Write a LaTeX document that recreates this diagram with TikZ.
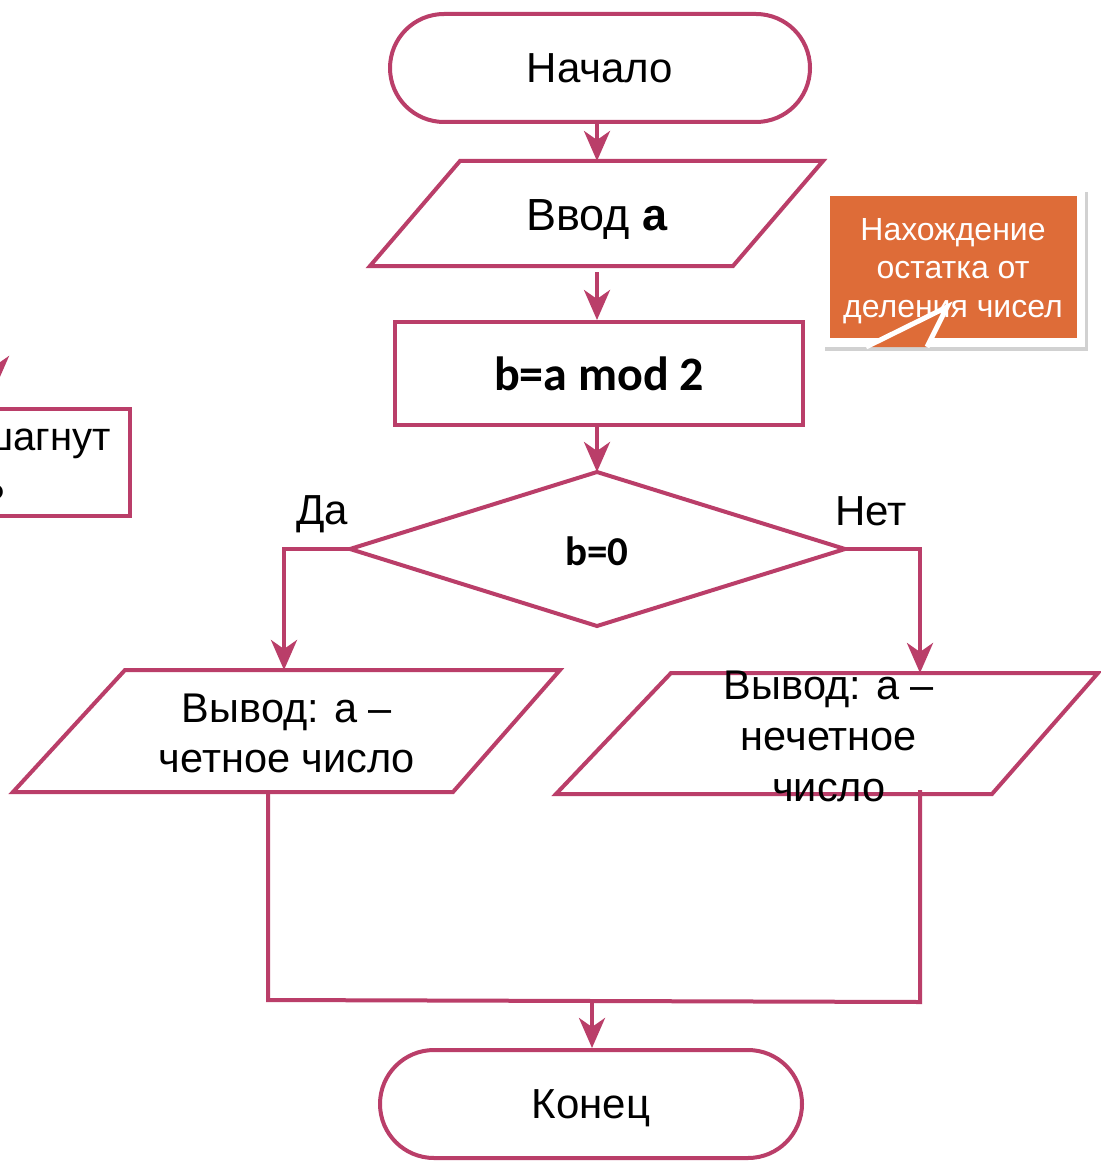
\documentclass[tikz,border=0pt]{standalone}
\usepackage{fontspec}
\setmainfont{Liberation Sans}
\newfontfamily\calibfont{Carlito}
\usetikzlibrary{shapes.geometric,shapes.misc,arrows.meta,calc}
\definecolor{fc}{RGB}{186,62,105}
\definecolor{oc}{RGB}{222,108,56}
\tikzset{
  fl/.style={draw=fc, line width=4pt, line join=miter},
  arr/.style={draw=fc, line width=4pt, -{Stealth[length=30pt,width=26pt,inset=9pt]}},
  txt/.style={font=\fontsize{42}{50}\selectfont, align=center, inner sep=0pt},
  term/.style={rounded rectangle, draw=fc, line width=4pt, inner sep=0pt, font=\fontsize{42}{50}\selectfont},
}
\begin{document}
\begin{tikzpicture}[x=1pt,y=-1pt]
\useasboundingbox (0,0) rectangle (1100,1161);
\fill[white] (0,0) rectangle (1100,1161);

% partial box at left edge
\begin{scope}
\clip (0,0) rectangle (1100,1161);
\draw[fl] (-60,409) rectangle (130,516);
\node[txt, font=\fontsize{40}{50}\selectfont, anchor=east] (lt1) at (111,444) {шагнут};
\node[txt, font=\fontsize{40}{50}\selectfont, anchor=east] (lt2) at (5,499) {?};
\coordinate (lat) at (-4,330);
\coordinate (lab) at (-4,386);
\draw[arr] (lat) -- (lab);
\end{scope}

% start
\node[term, minimum width=420pt, minimum height=108pt] (start) at (600,68) {Начало};

% input
\coordinate (inT) at (597,161);
\coordinate (inB) at (597,266);
\draw[fl] (460,161) -- (823,161) -- (733,266) -- (370,266) -- cycle;
\node[txt, font=\fontsize{45}{50}\selectfont] (inp) at (597,220) {Ввод {\bfseries а}};

% process
\node[draw=fc, line width=4pt, minimum width=408pt, minimum height=103pt, inner sep=0pt,
      font=\calibfont\bfseries\fontsize{48}{50}\selectfont] (proc) at (599,373.5) {b=a mod 2};

% decision
\coordinate (dT) at (597,472);
\coordinate (dL) at (350,549);
\coordinate (dB) at (597,626);
\coordinate (dR) at (845,549);
\draw[fl] (dT) -- (dR) -- (dB) -- (dL) -- cycle;
\node[inner sep=0pt, font=\calibfont\bfseries\fontsize{41}{50}\selectfont] (dec) at (597,551) {b=0};

% outputs
\draw[fl] (125,670) -- (560,670) -- (453,792) -- (13,792) -- cycle;
\coordinate (o1T) at (284,670);
\coordinate (o1B) at (268,792);
\node[txt, font=\fontsize{41.5}{50}\selectfont] (out1) at (287,733) {Вывод: а –\\четное число};

\draw[fl] (671,673) -- (1098,673) -- (992,794) -- (556,794) -- cycle;
\coordinate (o2T) at (920,673);
\coordinate (o2B) at (920,790);
\node[txt, font=\fontsize{41.5}{51}\selectfont] (out2) at (829,736) {Вывод: а –\\нечетное\\число};

% labels
\node[txt] (yes) at (322,514) {Да};
\node[txt] (no) at (871,511) {Нет};

% end
\node[term, minimum width=422pt, minimum height=108pt] (fin) at (591,1104) {};
\node[txt] (fint) at (591,1108) {Конец};

% connectors
\draw[arr] (start.south -| inT) -- (inT);
\draw[arr] ($(inB)+(0,6)$) -- (proc.north -| inB);
\draw[arr] (proc.south -| dT) -- (dT);
\draw[arr] (dL) -- (284,549) -- (o1T);
\draw[arr] (dR) -- (920,549) -- (o2T);
\coordinate (mL) at (268,1000);
\coordinate (mR) at (920,1002);
\draw[fl] (o1B) -- (mL) -- (mR) -- (o2B);
\coordinate (mM) at (592,1001);
\draw[arr] (mM) -- (fin.north -| mM);

% callout
\fill[black!18] (825,192) rectangle (1088,351);
\fill[white] (822,188) rectangle (1085,347);
\fill[oc] (830,196) rectangle (1077,338);
\node[txt, text=white, font=\fontsize{32}{38.5}\selectfont] (note) at (953,271) {Нахождение\\остатка от\\деления чисел};
\coordinate (tip) at (947,307);
\draw[white, line width=5pt, line join=miter, fill=oc] (866,347) -- (tip) -- (927,347);
\end{tikzpicture}
\end{document}
